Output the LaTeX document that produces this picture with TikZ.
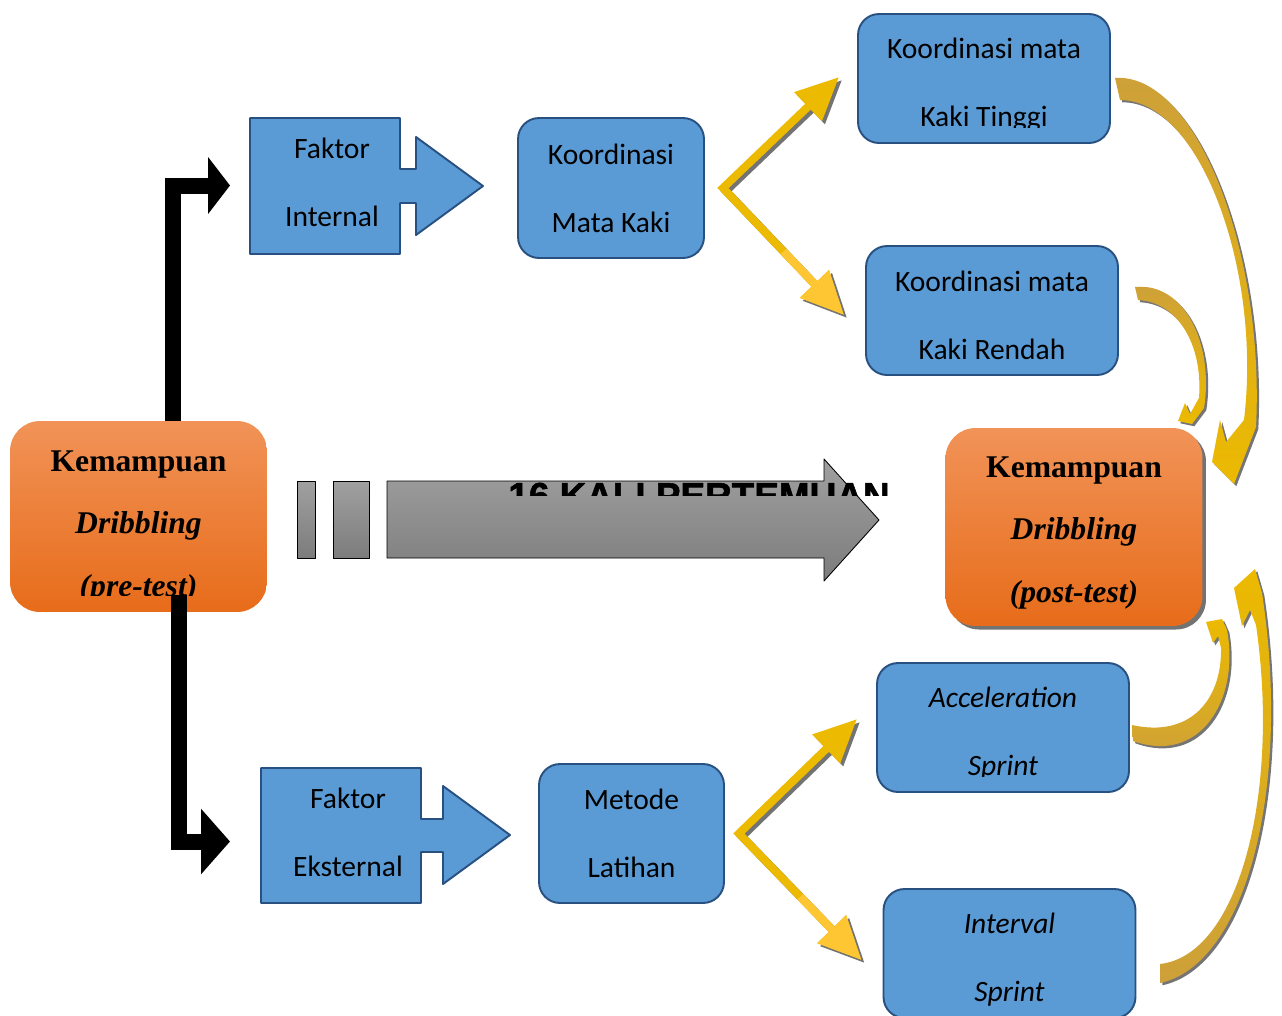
\documentclass[tikz,border=0pt]{standalone}
\usepackage{fontspec}
\setmainfont{Carlito}
\newfontfamily\timesfont{Liberation Serif}
\newfontfamily\arialfont[FakeBold=1.5]{Liberation Sans}
\usetikzlibrary{arrows.meta,shadows,calc}

\definecolor{boxblue}{RGB}{91,155,213}
\definecolor{boxline}{RGB}{40,80,128}
\definecolor{orangetop}{RGB}{241,147,88}
\definecolor{orangebot}{RGB}{231,108,26}
\definecolor{gold}{RGB}{236,186,0}
\definecolor{goldlight}{RGB}{255,198,52}
\definecolor{goldtail}{RGB}{205,160,58}
\definecolor{graytop}{RGB}{160,160,160}
\definecolor{graybot}{RGB}{124,124,124}

\newcommand\boxfont{\fontsize{16.8}{38.6}\selectfont}
\newcommand\orangefont{\timesfont\bfseries\fontsize{18}{35.4}\selectfont}

\tikzset{
  bluebox/.style={draw=boxline, fill=boxblue, line width=1.1pt, rounded corners=0.42cm,
    minimum width=5.04cm, minimum height=2.58cm, inner sep=0pt},
  boxtext/.style={align=center, inner sep=0pt, font=\boxfont},
  orangebox/.style={top color=orangetop, bottom color=orangebot, rounded corners=0.6cm,
    minimum width=5.14cm, inner sep=0pt},
  orangetext/.style={align=center, inner sep=0pt, font=\orangefont},
  callout/.style={draw=boxline, fill=boxblue, line width=1.1pt},
  blackarrow/.style={line width=0.32cm, line join=miter},
  goldline/.style={line width=0.16cm, {Triangle[length=0.86cm,width=0.76cm]}-{Triangle[length=0.86cm,width=0.76cm]}},
  goldshade/.style={goldline, draw=black!55, transform canvas={shift={(3,3)}}},
  curvearrow/.style={drop shadow={shadow xshift=1.3pt, shadow yshift=-1.3pt, fill=black!60, opacity=0.9}},
}

\begin{document}
\begin{tikzpicture}[x=0.02cm, y=-0.02cm, line join=round]
\useasboundingbox (0,0) rectangle (1282,1015);

% pre-test and post-test
\node[orangebox, minimum height=3.82cm] (pre) at (138.5,516.5) {};
\begin{scope}
  \clip (10,421) rectangle (267,595);
  \node[orangetext] (pretext) at (138.5,527) {Kemampuan\\\textit{Dribbling}\\\textit{(pre-test)}};
\end{scope}
\node[orangebox, minimum height=3.96cm, drop shadow={shadow xshift=2pt, shadow yshift=-2pt, fill=black!55, opacity=1}] (post) at (1074,527) {};
\node[orangetext] (posttext) at (1074,533) {Kemampuan\\\textit{Dribbling}\\\textit{(post-test)}};

% treatment arrow
\shade[top color=graytop, bottom color=graybot, draw=black, line width=0.5pt] (297,481) rectangle (315,558);
\shade[top color=graytop, bottom color=graybot, draw=black, line width=0.5pt] (333,481) rectangle (369,558);
\shade[top color=graytop, bottom color=graybot, draw=black, line width=0.5pt]
  (387,481) -- (824,481) -- (824,459) -- (879,520) -- (824,581) -- (824,558) -- (387,558) -- cycle;
\begin{scope}
  \clip (500,478) rectangle (900,495);
  \node[anchor=base west, inner sep=0pt, font=\arialfont\bfseries\fontsize{21}{21}\selectfont] (sesi) at (508,508.5) {16 KALI PERTEMUAN};
\end{scope}

% faktor
\draw[callout] (250,118) -- (400,118) -- (400,169) -- (416,169) -- (416,137) -- (483,186)
  -- (416,235) -- (416,203) -- (400,203) -- (400,254) -- (250,254) -- cycle;
\node[boxtext] (internal) at (332,182) {Faktor\\Internal};
\draw[callout] (261,768) -- (421,768) -- (421,819) -- (443,819) -- (443,786) -- (510,835)
  -- (443,884) -- (443,852) -- (421,852) -- (421,903) -- (261,903) -- cycle;
\node[boxtext] (eksternal) at (348,832) {Faktor\\Eksternal};

% blue boxes
\node[bluebox, minimum width=3.72cm, minimum height=2.8cm] (mata) at (611,188) {};
\node[boxtext] (matatext) at (611,188) {Koordinasi\\Mata Kaki};
\node[bluebox, minimum width=3.7cm, minimum height=2.78cm] (metode) at (631.5,833.5) {};
\node[boxtext] (metodetext) at (631.5,833) {Metode\\Latihan};
\node[bluebox] (tinggi) at (984,78.5) {};
\begin{scope}
  \clip (858,14) rectangle (1110,127);
  \node[boxtext] (tinggitext) at (984,85) {Koordinasi mata\\Kaki Tinggi};
\end{scope}
\node[bluebox] (rendah) at (992,310.5) {};
\node[boxtext] (rendahtext) at (992,315) {Koordinasi mata\\Kaki Rendah};
\node[bluebox] (accel) at (1003,727.5) {};
\begin{scope}
  \clip (877,663) rectangle (1129,776);
  \node[boxtext] (acceltext) at (1003,734) {\textit{Acceleration}\\\textit{Sprint}};
\end{scope}
\node[bluebox] (interval) at (1009.5,953.5) {};
\node[boxtext] (intervaltext) at (1009.5,960) {\textit{Interval}\\\textit{Sprint}};

% black arrows
\coordinate (upin) at (230,185.5);
\coordinate (downin) at (230,841.5);
\draw[blackarrow, -{Triangle[length=0.44cm,width=1.12cm]}] ([xshift=0.69cm]pre.north) |- (upin);
\draw[blackarrow, -{Triangle[length=0.58cm,width=1.28cm]}] ([xshift=0.81cm,yshift=0.34cm]pre.south) |- (downin);

% gold forks
\coordinate (upfork) at ($(mata.east)+(18,0)$);
\coordinate (tinggiin) at ($(tinggi.west)+(-18,-1.5)$);
\coordinate (rendahin) at ($(rendah.west)+(-21,4.5)$);
\coordinate (downfork) at ($(metode.east)+(14,0)$);
\coordinate (accelin) at ($(accel.west)+(-19,-8.5)$);
\coordinate (intervalin) at ($(interval.west)+(-21,6.5)$);
\draw[goldshade, line join=miter] (tinggiin) -- (upfork) -- (rendahin);
\draw[goldline, draw=gold, line join=miter] (tinggiin) -- (upfork) -- (rendahin);
\draw[line width=0.16cm, draw=goldlight, -{Triangle[length=0.86cm,width=0.76cm]}] ($(upfork)!0.5!(rendahin)$) -- (rendahin);
\draw[goldshade, line join=miter] (accelin) -- (downfork) -- (intervalin);
\draw[goldline, draw=gold, line join=miter] (accelin) -- (downfork) -- (intervalin);
\draw[line width=0.16cm, draw=goldlight, -{Triangle[length=0.86cm,width=0.76cm]}] ($(downfork)!0.5!(intervalin)$) -- (intervalin);

% curved arrows into post-test
\shade[curvearrow, top color=goldtail, bottom color=gold]
  (1115,78) .. controls (1195,72) and (1265,250) .. (1256,427)
  -- (1234,484) -- (1212,462) -- (1220,420) -- (1226,442) -- (1244,420)
  .. controls (1262,270) and (1200,100) .. (1120,100) -- cycle;
\shade[curvearrow, top color=goldtail, bottom color=gold]
  (1135,287) .. controls (1185,282) and (1214,345) .. (1204,408)
  -- (1192,424) -- (1178,421) -- (1185,403) -- (1190,414) -- (1199,398)
  .. controls (1203,345) and (1178,302) .. (1138,300) -- cycle;
\shade[curvearrow, top color=gold, bottom color=goldtail]
  (1133,741) .. controls (1200,765) and (1240,700) .. (1227,630)
  -- (1222,619) -- (1206,622) -- (1213,643) -- (1218,636) -- (1221,648)
  .. controls (1222,700) and (1190,738) .. (1132,725) -- cycle;
\shade[curvearrow, top color=gold, bottom color=goldtail]
  (1160,983) .. controls (1245,965) and (1292,790) .. (1262,593)
  -- (1255,569) -- (1234,588) -- (1242,626) -- (1250,610) -- (1256,625)
  .. controls (1280,790) and (1240,955) .. (1160,964) -- cycle;
\end{tikzpicture}
\end{document}
